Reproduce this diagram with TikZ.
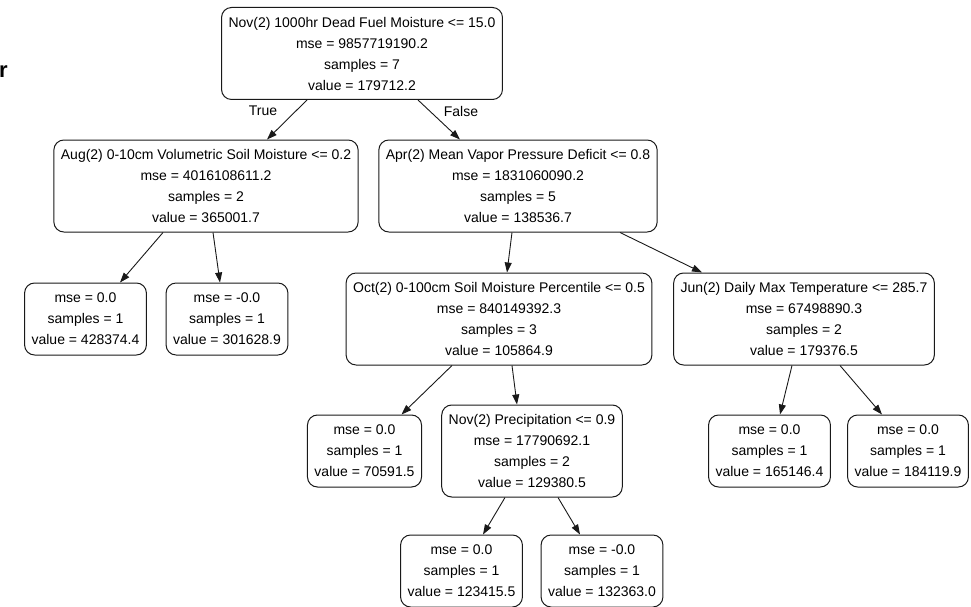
\documentclass[tikz,border=0pt]{standalone}
\usepackage{fontspec}
\setmainfont{Liberation Sans}
\usetikzlibrary{arrows.meta}
\begin{document}
\begin{tikzpicture}[x=1pt,y=-1pt,
  font=\fontsize{14}{21}\selectfont,
  tree/.style={draw=black!90, line width=1pt, rounded corners=10pt, align=center,
               inner xsep=7pt, inner ysep=0pt, minimum height=92pt},
  leaf/.style={tree, minimum height=72pt},
  edge/.style={draw=black!90, line width=0.9pt, -{Triangle[length=10pt,width=7pt]}},
  lbl/.style={inner sep=0pt}]
\useasboundingbox (0,0) rectangle (971,607);

% stray glyph at the left margin
\node[anchor=base west, inner sep=0pt, font=\fontsize{22}{22}\selectfont\bfseries] (glyph) at (-1,78) {r};

% level 0
\node[tree] (root) at (362,53.5) {Nov(2) 1000hr Dead Fuel Moisture <= 15.0\\mse = 9857719190.2\\samples = 7\\value = 179712.2};

% level 1
\node[tree] (aug) at (206,186) {Aug(2) 0-10cm Volumetric Soil Moisture <= 0.2\\mse = 4016108611.2\\samples = 2\\value = 365001.7};
\node[tree] (apr) at (518,186) {Apr(2) Mean Vapor Pressure Deficit <= 0.8\\mse = 1831060090.2\\samples = 5\\value = 138536.7};

% level 2
\node[leaf] (l1) at (85.5,319) {mse = 0.0\\samples = 1\\value = 428374.4};
\node[leaf] (l2) at (227,319) {mse = -0.0\\samples = 1\\value = 301628.9};
\node[tree] (oct) at (499,319) {Oct(2) 0-100cm Soil Moisture Percentile <= 0.5\\mse = 840149392.3\\samples = 3\\value = 105864.9};
\node[tree] (jun) at (804,319) {Jun(2) Daily Max Temperature <= 285.7\\mse = 67498890.3\\samples = 2\\value = 179376.5};

% level 3
\node[leaf] (l3) at (364.5,451) {mse = 0.0\\samples = 1\\value = 70591.5};
\node[tree] (nov) at (532,451) {Nov(2) Precipitation <= 0.9\\mse = 17790692.1\\samples = 2\\value = 129380.5};
\node[leaf] (l4) at (769.5,451) {mse = 0.0\\samples = 1\\value = 165146.4};
\node[leaf] (l5) at (908,451) {mse = 0.0\\samples = 1\\value = 184119.9};

% level 4
\node[leaf] (l6) at (461.5,571) {mse = 0.0\\samples = 1\\value = 123415.5};
\node[leaf] (l7) at (602,571) {mse = -0.0\\samples = 1\\value = 132363.0};

% branch labels
\node[lbl] (tlab) at (263,111) {True};
\node[lbl] (flab) at (461,111) {False};

% connectors
\draw[edge] ([xshift=-55pt]root.south) -- ([xshift=61pt]aug.north);
\draw[edge] ([xshift=56pt]root.south) -- ([xshift=-58pt]apr.north);
\draw[edge] ([xshift=-43pt]aug.south) -- ([xshift=34.5pt]l1.north);
\draw[edge] ([xshift=7pt]aug.south) -- ([xshift=-7pt]l2.north);
\draw[edge] ([xshift=-6pt]apr.south) -- ([xshift=8pt]oct.north);
\draw[edge] ([xshift=102pt]apr.south) -- ([xshift=-102pt]jun.north);
\draw[edge] ([xshift=-47pt]oct.south) -- ([xshift=37pt]l3.north);
\draw[edge] ([xshift=13pt]oct.south) -- ([xshift=-15pt]nov.north);
\draw[edge] ([xshift=-12pt]jun.south) -- ([xshift=10.5pt]l4.north);
\draw[edge] ([xshift=36pt]jun.south) -- ([xshift=-26pt]l5.north);
\draw[edge] ([xshift=-27pt]nov.south) -- ([xshift=21.5pt]l6.north);
\draw[edge] ([xshift=26pt]nov.south) -- ([xshift=-22pt]l7.north);
\end{tikzpicture}
\end{document}
